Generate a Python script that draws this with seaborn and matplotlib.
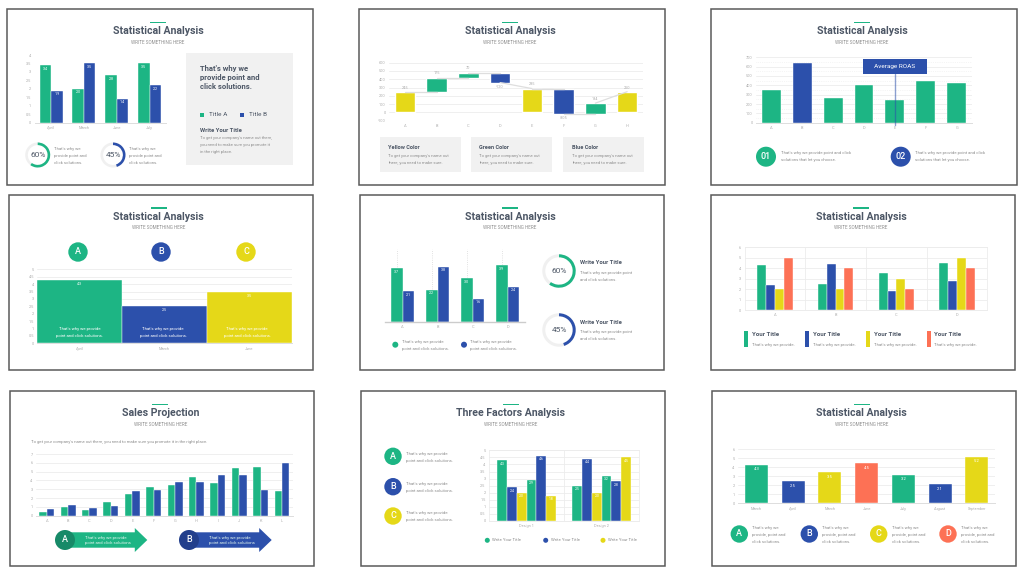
import numpy as np
import pandas as pd
import matplotlib
matplotlib.use('Agg')
import matplotlib.pyplot as plt
from matplotlib.patches import Circle, Wedge, Rectangle, Polygon
import seaborn as sns

# colours
GREEN = '#1db584'
BLUE = '#2c50ab'
YELLOW = '#e5d818'
ORANGE = '#fd7155'
INK = '#4d5766'
BODY = '#8f8f8f'
TICK = '#adadad'
GRID = '#ececec'
PANEL = '#f1f1f1'

# slide 1
s1_cats = ['April', 'March', 'June', 'July']
s1_a = [3.4, 2.0, 2.8, 3.5]
s1_b = [1.9, 3.5, 1.4, 2.2]

# slide 2 (waterfall)
s2_cats = ['A', 'B', 'C', 'D', 'E', 'F', 'G', 'H']
s2_start = [0, 245, 416, 480, 0, 285, -20, 0]
s2_end = [245, 420, 480, 360, 288, -20, 112, 250]
s2_labels = ['245', '175', '70', '-120', '285', '-305', '134', '250']
s2_colors = [YELLOW, GREEN, GREEN, BLUE, YELLOW, BLUE, GREEN, YELLOW]

# slide 3
s3_cats = ['A', 'B', 'C', 'D', 'E', 'F', 'G']
s3_vals = [346, 636, 268, 407, 243, 446, 421]
s3_colors = [GREEN, BLUE, GREEN, GREEN, GREEN, GREEN, GREEN]

# slide 4
s4_cats = ['April', 'March', 'June']
s4_vals = [4.3, 2.5, 3.5]

# slide 5
s5_cats = ['A', 'B', 'C', 'D']
s5_a = [3.7, 2.2, 3.0, 3.9]
s5_b = [2.1, 3.8, 1.6, 2.4]
s5_err_top = [5.0, 5.0, 5.0, 5.0]

# slide 6
s6_cats = ['A', 'B', 'C', 'D']
s6_a = [4.3, 2.5, 3.5, 4.5]
s6_b = [2.4, 4.4, 1.8, 2.8]
s6_c = [2, 2, 3, 5]
s6_d = [5, 4, 2, 4]

# slide 7
s7_cats = list('ABCDEFGHIJKL')
s7_a = [0.4, 0.95, 0.6, 1.6, 2.5, 3.3, 3.45, 4.4, 3.7, 5.4, 5.5, 2.8]
s7_b = [0.75, 1.2, 0.85, 1.15, 2.75, 2.9, 3.8, 3.8, 4.6, 4.6, 2.9, 6.0]

# slide 8
s8_cats = ['Design 1', 'Design 2']
s8_series = [[4.3, 2.5], [2.4, 4.4], [2.0, 2.0], [2.9, 3.2], [4.6, 2.8], [1.8, 4.5]]
s8_colors = [GREEN, BLUE, YELLOW, GREEN, BLUE, YELLOW]

# slide 9
s9_cats = ['March', 'April', 'March', 'June', 'July', 'August', 'September']
s9_vals = [4.3, 2.5, 3.5, 4.5, 3.2, 2.1, 5.2]
s9_colors = [GREEN, BLUE, YELLOW, ORANGE, GREEN, BLUE, YELLOW]

sns.set_theme(style='white')
plt.rcParams['font.family'] = ['Roboto', 'DejaVu Sans']

W, H = 1024, 575
fig = plt.figure(figsize=(W / 100, H / 100), dpi=100, facecolor='white')

# overlay in pixel coordinates for the slide furniture
bg = fig.add_axes([0, 0, 1, 1], zorder=1)
bg.set_xlim(0, W)
bg.set_ylim(H, 0)
bg.axis('off')

# same again, above the charts
top_layer = fig.add_axes([0, 0, 1, 1], zorder=3)
top_layer.set_xlim(0, W)
top_layer.set_ylim(H, 0)
top_layer.axis('off')


def chart_axes(x0, y0, x1, y1):
    ax = fig.add_axes([x0 / W, 1 - y1 / H, (x1 - x0) / W, (y1 - y0) / H], zorder=2)
    ax.patch.set_alpha(0)
    return ax


def style_axes(ax, ymax, step, n, tick_size=2.8, ylabels=True, fmt=None):
    ax.set_xlim(-0.5, n - 0.5)
    ax.set_ylim(0, ymax)
    ticks = np.arange(0, ymax + step / 2, step)
    ax.set_yticks(ticks)
    if fmt:
        ax.set_yticklabels([fmt(t) for t in ticks])
    ax.set_xlabel('')
    ax.set_ylabel('')
    ax.grid(axis='y', color=GRID, lw=0.6)
    ax.set_axisbelow(True)
    ax.tick_params(axis='both', length=0, labelsize=tick_size, labelcolor=TICK, pad=2.5)
    if not ylabels:
        ax.set_yticklabels([])
    for side in ['top', 'right', 'left']:
        ax.spines[side].set_visible(False)
    ax.spines['bottom'].set_color('#dddddd')
    ax.spines['bottom'].set_linewidth(0.7)


def box_grid(ax, n):
    ax.set_xticks(np.arange(n - 1) + 0.5, minor=True)
    ax.grid(axis='x', which='minor', color=GRID, lw=0.6)
    ax.tick_params(axis='x', which='minor', length=0)
    for side in ['left', 'right', 'top']:
        ax.spines[side].set_visible(True)
        ax.spines[side].set_color(GRID)
        ax.spines[side].set_linewidth(0.6)
    ax.spines['bottom'].set_color(GRID)


def half(t):
    return f'{t:g}'


def grouped(ax, cats, series, colors, width=0.7):
    # one hue level per series
    names = [f's{i}' for i in range(len(series))]
    df = pd.DataFrame({'cat': list(range(len(cats))) * len(series),
                       'val': np.concatenate(series),
                       'series': np.repeat(names, len(cats))})
    sns.barplot(data=df, x='cat', y='val', hue='series', palette=dict(zip(names, colors)),
                width=width, errorbar=None, legend=False, saturation=1, ax=ax,
                edgecolor='white', linewidth=0.3)
    ax.set_xticks(range(len(cats)))
    ax.set_xticklabels(cats)


def single(ax, cats, vals, colors, width=0.7):
    df = pd.DataFrame({'pos': range(len(cats)), 'val': vals})
    sns.barplot(data=df, x='pos', y='val', hue='pos', palette=colors, width=width,
                errorbar=None, legend=False, saturation=1, dodge=False, ax=ax,
                edgecolor='white', linewidth=0.3)
    ax.set_xticks(range(len(cats)))
    ax.set_xticklabels(cats)


def bar_values(ax, size=2.6, color='white', offset=-2.5):
    for bar in ax.patches:
        if bar.get_height() > 0:
            ax.annotate(f'{bar.get_height():.1f}', (bar.get_x() + bar.get_width() / 2, bar.get_height()),
                        xytext=(0, offset), textcoords='offset points', ha='center', va='center',
                        fontsize=size, color=color)


def slide(x0, y0, x1, y1, cx, title, ty):
    bg.add_patch(Rectangle((x0, y0), x1 - x0, y1 - y0, fc='white', ec='#5a5a5a', lw=1.1))
    bg.add_patch(Rectangle((cx - 8, ty - 9.5), 16, 1.4, fc=GREEN, ec='none'))
    bg.text(cx, ty, title, ha='center', va='center', fontsize=7.6, color=INK, fontweight='bold')
    bg.text(cx, ty + 11, 'WRITE SOMETHING HERE', ha='center', va='center', fontsize=3.3, color=BODY)


def body(x, y, lines, color=BODY, size=3.1, gap=7, ha='left', layer=None):
    for i, line in enumerate(lines):
        (layer or bg).text(x, y + i * gap, line, ha=ha, va='center', fontsize=size, color=color)


def head(x, y, text, size=4.2, color=INK):
    bg.text(x, y, text, ha='left', va='center', fontsize=size, color=color, fontweight='bold')


def badge(x, y, r, color, text, size=6.5):
    bg.add_patch(Circle((x, y), r, fc=color, ec='none'))
    if text:
        bg.text(x, y, text, ha='center', va='center', fontsize=size, color='white', fontweight='medium')


def donut(x, y, r, width, share, color, size):
    bg.add_patch(Wedge((x, y), r, 0, 360, width=width, fc='#f0f0f0', ec='none'))
    bg.add_patch(Wedge((x, y), r, -90, -90 + 360 * share / 100, width=width, fc=color, ec='none'))
    bg.text(x, y, f'{share}%', ha='center', va='center', fontsize=size, color=INK)


def arrow(x0, tip, y, color, dark, letter, lines):
    neck = tip - 12.5
    bg.add_patch(Polygon([(x0, y - 7.7), (neck, y - 7.7), (neck, y - 12), (tip, y),
                          (neck, y + 12), (neck, y + 7.7), (x0, y + 7.7)], fc=color, ec='none'))
    badge(x0, y, 10, dark, letter)
    body(x0 + 20, y - 2.3, lines, color='#dff3ec', gap=5.7)


WHY3 = ["That's why we", 'provide point and', 'click solutions.']
WHY2 = ["That's why we provide", 'point and click solutions.']

# ---- slide 1
slide(7, 9, 313, 185, 158, 'Statistical Analysis', 31)
ax = chart_axes(34.6, 55, 166, 122.7)
grouped(ax, s1_cats, [s1_a, s1_b], [GREEN, BLUE])
style_axes(ax, 4, 0.5, 4, fmt=half)
ax.grid(False)
bar_values(ax)
donut(37.7, 155, 12.5, 2.6, 60, GREEN, 6)
donut(113, 155, 12.5, 2.6, 45, BLUE, 6)
body(54, 149, WHY3)
body(129, 149, WHY3)
bg.add_patch(Rectangle((186, 53), 107, 112, fc=PANEL, ec='none'))
for i, line in enumerate(["That's why we", 'provide point and', 'click solutions.']):
    head(200, 68.5 + i * 9, line, size=5.5)
bg.add_patch(Rectangle((200, 112.7), 4, 4, fc=GREEN, ec='none'))
bg.add_patch(Rectangle((240, 112.7), 4, 4, fc=BLUE, ec='none'))
bg.text(209, 114.7, 'Title A', fontsize=4.6, color=INK, va='center')
bg.text(249, 114.7, 'Title B', fontsize=4.6, color=INK, va='center')
head(200.5, 130, 'Write Your Title')
body(200.5, 138, ["To get your company's name out there,", 'you need to make sure you promote it', 'in the right place.'], gap=6.8)

# ---- slide 2
slide(359, 9, 665, 185, 510, 'Statistical Analysis', 31)
ax = chart_axes(389, 62.7, 643, 120.7)
heights = [e - s for s, e in zip(s2_start, s2_end)]
sns.barplot(x=list(range(len(s2_cats))), y=heights, bottom=s2_start, color=GREEN, width=0.65,
            errorbar=None, saturation=1, ax=ax)
for bar, c in zip(ax.patches, s2_colors):
    bar.set_facecolor(c)
for i in range(len(s2_cats) - 1):
    # flat runs between bars, except where the next bar rises from zero
    next_y = s2_end[i + 1] if s2_start[i + 1] == 0 else s2_end[i]
    ax.plot([i, i + 1], [s2_end[i], next_y], color='#dedede', lw=0.9, zorder=1)
ax.set_xticks(range(len(s2_cats)))
ax.set_xticklabels(s2_cats)
style_axes(ax, 600, 100, 8)
ax.set_ylim(-100, 600)
ax.set_yticks(np.arange(-100, 601, 100))
ax.set_yticklabels([f'{t}' for t in np.arange(-100, 601, 100)])
ax.spines['bottom'].set_visible(False)
for i, lab in enumerate(s2_labels):
    top = max(s2_start[i], s2_end[i])
    low = min(s2_start[i], s2_end[i])
    below = lab.startswith('-')
    ax.annotate(lab, (i, low if below else top), xytext=(0, -3 if below else 3), textcoords='offset points',
                ha='center', va='center', fontsize=2.8, color=TICK)
for x0, title in zip([380, 471, 563.3], ['Yellow Color', 'Green Color', 'Blue Color']):
    bg.add_patch(Rectangle((x0, 137.3), 81, 34.4, fc=PANEL, ec='none'))
    head(x0 + 8.3, 147.3, title, size=4.1)
    body(x0 + 8.3, 156, ["To get your company's name out", 'there, you need to make sure.'])

# ---- slide 3
slide(711, 9, 1017, 185, 862, 'Statistical Analysis', 31)
ax = chart_axes(756, 57.3, 972, 122.7)
single(ax, s3_cats, s3_vals, s3_colors, width=0.61)
style_axes(ax, 700, 100, 7)
ax.set_yticks(np.arange(50, 700, 100), minor=True)
ax.grid(axis='y', which='minor', color=GRID, lw=0.5, ls=':')
ax.tick_params(axis='y', which='minor', length=0)
ax.axvline(4, ymin=-0.04, ymax=0.75, color=BLUE, alpha=0.55, lw=1, clip_on=False, zorder=5)
top_layer.add_patch(Rectangle((862.7, 59), 64, 15, fc=BLUE, ec='none'))
top_layer.text(894.7, 66.5, 'Average ROAS', ha='center', va='center', fontsize=4.6, color='white')
badge(766, 156.7, 10, GREEN, '01')
badge(900.7, 156.7, 10, BLUE, '02')
body(781, 153, ["That's why we provide point and click", 'solutions that let you choose.'])
body(915, 153, ["That's why we provide point and click", 'solutions that let you choose.'])

# ---- slide 4
slide(9, 195, 313, 370, 158.7, 'Statistical Analysis', 216.7)
ax = chart_axes(37.3, 269.3, 291.7, 343.3)
single(ax, s4_cats, s4_vals, [GREEN, BLUE, YELLOW], width=1)
style_axes(ax, 5, 0.5, 3, fmt=half)
bar_values(ax, offset=-3)
for cx, c, letter in zip([78, 161, 246], [GREEN, BLUE, YELLOW], 'ABC'):
    badge(cx, 252, 9.7, c, letter)
for cx in [79.7, 163, 247]:
    body(cx, 329, WHY2, color='white', gap=6.7, ha='center', layer=top_layer)

# ---- slide 5
slide(360, 195, 664, 370, 510, 'Statistical Analysis', 216.7)
ax = chart_axes(385, 249.3, 525, 321.7)
grouped(ax, s5_cats, [s5_a, s5_b], [GREEN, BLUE], width=0.68)
for bar, top in zip(ax.patches[:4], s5_err_top):
    ax.plot([bar.get_x() + bar.get_width() / 2] * 2, [0, top], color='#d8d8d8', lw=0.6, ls=':', zorder=0.5)
style_axes(ax, 5, 1, 4, ylabels=False)
ax.grid(False)
bar_values(ax)
ax.spines['bottom'].set_linewidth(1)
ax.spines['bottom'].set_color('#cccccc')
bg.add_patch(Circle((395.3, 344.7), 3, fc=GREEN, ec='none'))
bg.add_patch(Circle((464, 344.7), 3, fc=BLUE, ec='none'))
body(401.7, 341.7, WHY2)
body(470, 341.7, WHY2)
donut(559, 271, 16.7, 3, 60, GREEN, 6)
donut(559, 330, 16.7, 3, 45, BLUE, 6)
head(580, 263, 'Write Your Title')
body(580, 272.7, ["That's why we provide point", 'and click solutions.'])
head(580, 322, 'Write Your Title')
body(580, 331.7, ["That's why we provide point", 'and click solutions.'])

# ---- slide 6
slide(711, 195, 1015, 370, 861, 'Statistical Analysis', 216.7)
ax = chart_axes(744.7, 247.3, 987.3, 310)
grouped(ax, s6_cats, [s6_a, s6_b, s6_c, s6_d], [GREEN, BLUE, YELLOW, ORANGE], width=0.58)
style_axes(ax, 6, 1, 4)
box_grid(ax, 4)
for x0, c in zip([744, 805.3, 866, 926.7], [GREEN, BLUE, YELLOW, ORANGE]):
    bg.add_patch(Rectangle((x0, 331.3), 4, 15.7, fc=c, ec='none'))
    head(x0 + 7.7, 335, 'Your Title', size=4.4)
    body(x0 + 7.7, 345, ["That's why we provide."])

# ---- slide 7
slide(10, 391, 314, 565.7, 160.3, 'Sales Projection', 413.3)
body(30.7, 442.3, ["To get your company's name out there, you need to make sure you promote it in the right place."])
ax = chart_axes(36, 454, 292.7, 515.7)
grouped(ax, s7_cats, [s7_a, s7_b], [GREEN, BLUE], width=0.7)
style_axes(ax, 7, 1, 12)
arrow(65, 147.3, 540, GREEN, '#178a68', 'A', ["That's why we provide", 'point and click solutions'])
arrow(189, 271.7, 540, BLUE, '#223f8c', 'B', ["That's why we provide", 'point and click solutions'])

# ---- slide 8
slide(361, 391, 665, 566, 511, 'Three Factors Analysis', 413.3)
for y, c, letter in zip([456.3, 486.7, 516], [GREEN, BLUE, YELLOW], 'ABC'):
    badge(393, y, 8.7, c, letter)
    body(406, y - 2.7, WHY2)
ax = chart_axes(489, 450.3, 639.3, 521)
grouped(ax, s8_cats, s8_series, s8_colors, width=0.78)
style_axes(ax, 5, 0.5, 2, fmt=half)
box_grid(ax, 2)
bar_values(ax, size=2.5)
for x0, c in zip([487.3, 545.7, 603], [GREEN, BLUE, YELLOW]):
    bg.add_patch(Circle((x0, 540.3), 2.5, fc=c, ec='none'))
    body(x0 + 5, 540.3, ['Write Your Title'])

# ---- slide 9
slide(712, 391, 1016, 566, 861.7, 'Statistical Analysis', 413.3)
ax = chart_axes(738, 449.3, 995.3, 503.3)
single(ax, s9_cats, s9_vals, s9_colors, width=0.63)
style_axes(ax, 6, 1, 7)
bar_values(ax, offset=-3.5, size=3)
for x0, tx, c, letter in zip([739.3, 809.3, 878.7, 948], [752.3, 822.3, 892, 961.3], [GREEN, BLUE, YELLOW, ORANGE], 'ABCD'):
    badge(x0, 534, 8.7, c, letter)
    body(tx, 527.7, ["That's why we", 'provide, point and', 'click solutions.'])

fig.savefig('out.png', dpi=100)
